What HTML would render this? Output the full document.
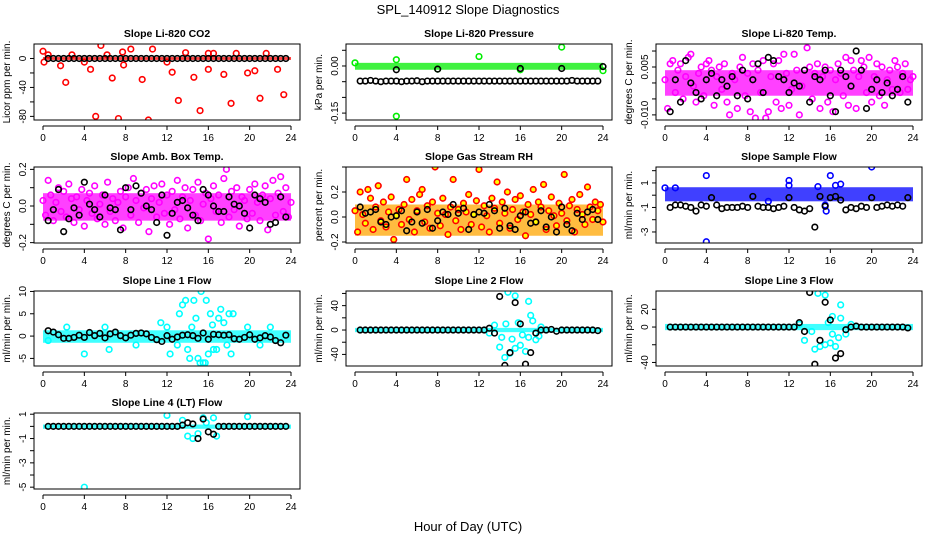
<!DOCTYPE html>
<html><head><meta charset="utf-8"><style>
body{margin:0;background:#fff;}
svg{display:block;font-family:"Liberation Sans",sans-serif;}
</style></head><body>
<svg id="chart" width="936" height="540" viewBox="0 0 936 540" xmlns="http://www.w3.org/2000/svg">
<rect width="936" height="540" fill="#fff"/>
<text x="468" y="14" text-anchor="middle" font-size="13">SPL_140912  Slope Diagnostics</text>
<text x="468" y="531" text-anchor="middle" font-size="13">Hour of Day (UTC)</text>
</svg>
<script>
const xTicks=[0,4,8,12,16,20,24];
const colTimes=[0,0.25,0.5,0.75,1,1.25,1.5,1.75,2,2.25,2.5,2.75,3,3.25,3.5,3.75,4,4.25,4.5,4.75,5,5.25,5.5,5.75,6,6.25,6.5,6.75,7,7.25,7.5,7.75,8,8.25,8.5,8.75,9,9.25,9.5,9.75,10,10.25,10.5,10.75,11,11.25,11.5,11.75,12,12.25,12.5,12.75,13,13.25,13.5,13.75,14,14.25,14.5,14.75,15,15.25,15.5,15.75,16,16.25,16.5,16.75,17,17.25,17.5,17.75,18,18.25,18.5,18.75,19,19.25,19.5,19.75,20,20.25,20.5,20.75,21,21.25,21.5,21.75,22,22.25,22.5,22.75,23,23.25,23.5,23.75,24];
const blackTimes=[0.5,1,1.5,2,2.5,3,3.5,4,4.5,5,5.5,6,6.5,7,7.5,8,8.5,9,9.5,10,10.5,11,11.5,12,12.5,13,13.5,14,14.5,15,15.5,16,16.5,17,17.5,18,18.5,19,19.5,20,20.5,21,21.5,22,22.5,23,23.5];

// Panel 1 CO2
const co2Band=[-2,2];
const co2RedX=[0,0.1,0.5,1.7,2.2,2.8,4,4.6,5.1,5.6,6.2,6.7,7.3,7.8,7.7,8.5,9.6,10.2,10.6,12,12.5,13.1,13.8,14.6,15.2,16,16.5,17.5,18.2,18.7,19.8,20.5,21,21.6,22.7,23.3,16];
const co2RedY=[10,-5,5,-10,-33,5,-5,-15,-80,18,5,-27,-83,-9,9,13,-29,-85,13,-5,-19,-58,8,-26,-72,-15,7,-22,-62,7,-20,-17,-55,7,-15,-50,7];
const co2Black=[0,0,0,0,0,0,0,0,0,0,0,0,0,0,0,0,0,0,0,0,0,0,0,0,0,0,0,0,0,0,0,0,0,0,0,0,0,0,0,0,0,0,0,0,0,0,0];
// Panel 2 pressure
const presBand=[-0.012,0.01];
const presGreenX=[0,4,4,12,20,24,16,8];
const presGreenY=[0.01,0.02,-0.16,0.03,0.06,-0.015,-0.012,-0.01];
const presBlack=[-0.048,-0.048,-0.046,-0.048,-0.05,-0.048,-0.048,-0.048,-0.05,-0.048,-0.048,-0.047,-0.05,-0.048,-0.048,-0.048,-0.048,-0.048,-0.048,-0.048,-0.048,-0.048,-0.048,-0.048,-0.048,-0.048,-0.048,-0.048,-0.048,-0.048,-0.048,-0.048,-0.048,-0.048,-0.048,-0.048,-0.048,-0.048,-0.048,-0.048,-0.048,-0.046,-0.048,-0.048,-0.048,-0.048,-0.048];
const presBlackExtraX=[4,8,16,20,24];
const presBlackExtraY=[-0.012,-0.01,-0.008,-0.008,-0.002];
// Panel 3 Li-820 temp
const tempBand=[-0.004,0.004];
const tempMag=[0.001,-0.008,0.006,0.007,-0.003,0.004,0.006,-0.005,0.002,0.008,0.009,-0.001,-0.006,0.003,0.005,-0.004,0.006,0.007,0.004,-0.007,0.002,0.005,-0.002,0.006,-0.006,-0.010,0.003,0.001,-0.008,0.005,0.008,-0.004,0.003,-0.009,0.006,-0.011,0.004,-0.003,0.007,-0.011,-0.009,0.002,0.006,-0.006,0.007,-0.008,0.009,0.003,-0.007,-0.002,0.009,0.004,-0.010,-0.001,0.004,0.011,0.005,-0.005,0.003,0.006,-0.008,0.002,0.005,-0.006,0.004,-0.009,0.001,0.006,0.003,-0.004,0.008,-0.007,0.007,0.004,-0.008,0.002,0.007,0.005,-0.003,0.008,-0.006,0.002,0.006,-0.004,0.005,-0.007,0.001,0.004,-0.002,0.007,0.005,-0.003,0.003,0.006,-0.002,0.001,0.002];
const tempBlack=[-0.009,0.001,-0.006,0.007,0.000,-0.003,-0.005,0.001,0.003,-0.004,0.001,-0.001,0.002,-0.004,0.004,-0.005,0.001,0.006,-0.003,0.008,0.007,0.002,0.001,-0.003,0.000,-0.001,0.004,-0.006,0.002,0.001,0.004,-0.004,-0.009,0.004,0.002,-0.001,0.010,0.004,-0.008,-0.002,0.001,-0.003,0.000,-0.004,-0.002,0.002,-0.006];
// Panel 4 amb box temp
const ambBand=[-0.08,0.07];
const ambMag=[0.03,-0.05,0.14,0.06,-0.08,0.02,0.10,-0.03,0.08,-0.06,0.12,0.04,-0.09,0.05,-0.02,0.09,-0.11,0.03,0.07,-0.04,0.11,-0.07,0.01,0.06,-0.10,0.13,-0.03,0.04,-0.08,0.02,0.08,-0.12,0.05,0.10,-0.05,0.15,0.03,-0.09,0.07,-0.01,0.09,-0.14,0.04,0.11,-0.06,0.02,0.12,-0.04,0.06,-0.10,0.08,-0.02,0.14,-0.07,0.05,0.10,-0.12,0.03,0.09,-0.05,0.13,-0.08,0.01,0.07,-0.18,0.04,0.11,-0.03,0.06,-0.09,0.15,0.20,-0.06,0.08,-0.02,0.10,-0.11,0.05,0.03,-0.07,0.09,-0.04,0.12,0.02,-0.08,0.06,0.11,-0.13,0.04,0.14,-0.05,0.07,0.16,-0.03,0.10,-0.06,0.02];
const ambBlack=[-0.08,-0.02,0.09,-0.14,-0.07,-0.01,-0.05,0.13,0.01,-0.02,-0.06,0.06,-0.01,-0.02,-0.13,0.10,-0.02,0.11,0.07,0.00,-0.02,-0.09,0.06,-0.16,-0.04,0.02,0.03,-0.01,-0.05,-0.08,0.09,0.06,0.00,-0.03,-0.03,0.05,0.01,0.00,-0.04,-0.12,0.06,0.04,0.02,-0.10,-0.09,0.05,-0.06];
// Panel 5 RH
const rhBand=[-0.15,0.1];
const rhOrange=[0.05,-0.12,0.20,0.02,-0.05,0.22,0.15,-0.10,0.08,0.25,-0.03,0.12,-0.08,0.04,0.16,-0.18,0.01,0.06,-0.06,0.10,0.30,-0.02,0.14,-0.12,0.05,0.18,0.22,-0.04,0.09,-0.09,0.12,0.40,0.03,-0.07,0.15,0.02,-0.14,0.08,0.30,-0.03,0.06,-0.10,0.11,0.04,0.18,-0.06,0.02,0.13,0.38,-0.08,0.09,0.01,-0.12,0.15,0.07,0.28,-0.05,0.12,0.03,0.20,-0.09,0.06,0.14,-0.02,0.17,0.04,-0.15,0.10,0.02,0.22,-0.04,0.12,0.08,0.26,-0.10,0.05,0.16,0.01,-0.07,0.11,0.03,0.34,-0.03,0.09,0.14,-0.12,0.06,0.18,0.02,-0.06,0.24,0.08,-0.02,0.12,0.05,0.10,-0.04];
const rhBlack=[0.08,0.03,0.04,0.06,-0.04,-0.06,0.00,0.01,0.05,-0.11,-0.04,0.04,-0.05,0.06,-0.09,-0.03,0.04,0.02,0.10,0.03,0.07,-0.10,0.02,0.04,0.03,0.10,0.05,-0.09,0.07,-0.07,-0.10,0.01,0.04,-0.05,-0.04,0.05,-0.08,0.00,-0.12,0.08,-0.06,-0.11,0.03,-0.02,0.04,0.06,-0.02];
// Panel 6 sample flow
const sfBand=[-0.5,0.65];
const sfBlueX=[4,4,12,12,15.5,15.6,16,16.5,17,20,10,0,1,14.8];
const sfBlueY=[1.6,-3.8,1.2,0.8,-0.8,-1.3,1.6,0.8,0.9,2.3,-0.5,0.6,0.6,0.7];
const sfBlack=[-1.0,-0.8,-0.8,-0.9,-1.0,-1.3,-0.8,-0.9,-0.2,-0.8,-1.1,-1.0,-1.0,-1.0,-0.9,-1.0,-0.1,-0.9,-1.0,-1.0,-1.1,-1.0,-0.9,-0.2,-1.0,-1.2,-1.3,-1.1,-2.6,-0.1,-0.9,-0.2,-0.1,-0.4,-1.2,-1.0,-1.1,-0.9,-1.0,-0.2,-1.0,-0.9,-0.8,-0.9,-0.8,-0.9,-0.2];
// Panel 7 line 1
const l1Band=[-1.5,1.3];
const l1CyanX=[0.5,2.3,4,6.4,11.4,12,12.3,13.2,13.5,13.8,14,14.2,14.6,14.8,15,15.2,15.3,15.5,15.7,15.8,16,16.2,16.5,16.8,17,17.2,17.5,18,18.2,18.4,19.8,21,22,16.4,17.8,13,14.4,6,9];
const l1CyanY=[-1,2,-4,-3,3,2,-4,5,7,8,-3,-5,8,4,-5,-6,10,-6,-6,8,-4,5,-3,-3,4,6,3,5,-4,5,2,-2,2,2.5,-2,-2,2,2,-2];
const l1Black=[1.2,0.9,0.3,-0.5,-0.5,-0.3,0.2,-0.3,0.8,0.1,0.6,-0.4,0.5,0.9,0.1,-0.4,0.2,0.6,0.7,0.5,-0.3,-0.8,-1.2,0.1,-0.7,-0.2,0.2,0.3,0.1,-0.5,0.7,-0.7,0.4,0.3,0.2,0.3,-0.6,-0.7,-0.3,0.3,-0.7,-0.4,0.1,-0.2,-1.0,-1.5,0.2];
// Panel 8 line 2
const l2Band=[-3.5,3.5];
const l2CyanX=[14.8,15.5,16.8,17,14,14.5,15,15.5,16,16.5,17.5,13.5,14.2,15.2,16.2,17.2,13,15.8,16.8,17.8,14.6,18];
const l2CyanY=[62,56,47,24,-28,-45,-38,-30,-25,-35,-16,8,-12,-15,-8,15,-5,12,-12,-10,10,5];
const l2Black=[0,0,0,0,0,0,0,0,0,0,0,0,0,0,0,0,0,0,0,0,0,0,0,0,0,3,-5,55,-58,-37,45,10,-56,-37,-5,0,0,1,-2,0,0,0,0,0,0,0,-1];
// Panel 9 line 3
const l3Band=[-3.5,3.5];
const l3CyanX=[14.8,15.5,17,16.2,17,14.5,15,15.5,16,16.5,16.8,13.5,14.2,16.2,17.5,15.8,13,18];
const l3CyanY=[38,36,25,12,10,-25,-22,-20,-18,-22,-12,-15,-5,-8,-8,5,3,3];
const l3Black=[0,0,0,0,0,0,0,0,0,0,0,0,0,0,0,0,0,0,0,0,0,0,0,0,0,5,-5,39,-42,-15,28,8,-35,-30,-3,0,1,0,0,0,0,0,0,0,0,0,-1];
// Panel 10 line 4
const l4Band=[-0.2,0.15];
const l4CyanX=[4,12,19.8,15.5,16.5,14.5,14,15,16.8,13.5,15.8];
const l4CyanY=[-5,0.9,0.8,0.7,0.7,-1,-0.8,-0.6,-0.8,0.5,0.3];
const l4Black=[0,0,0,0,0,0,0,0,0,0,0,0,0,0,0,0,0,0,0,0,0,0,0,0,0,0,0.1,0.3,0.2,-1.0,0.6,-0.45,-0.65,0,0,0,0,0,0,0,0,0,0,0,0,0,0];

const NS='http://www.w3.org/2000/svg';
const svg=document.getElementById('chart');
function mk(tag,attrs,parent){const e=document.createElementNS(NS,tag);for(const k in attrs)e.setAttribute(k,attrs[k]);(parent||svg).appendChild(e);return e;}

const panels=[
 {name:'co2',title:'Slope Li-820 CO2',ylab:'Licor ppm per min.',L:34,R:300,T:44,B:120,ymin:-85,ymax:20,ticks:[0,-20,-40,-60,-80],labels:[0,-40,-80],fmt:v=>String(v),col:'#ff0000',band:co2Band,cx:co2RedX,cy:co2RedY,bk:co2Black},
 {name:'pressure',title:'Slope Li-820 Pressure',ylab:'kPa per min.',L:346,R:612,T:44,B:120,ymin:-0.172,ymax:0.07,ticks:[0.05,0,-0.05,-0.1,-0.15],labels:[0,-0.15],fmt:v=>v.toFixed(2),col:'#00ee00',band:presBand,cx:presGreenX,cy:presGreenY,bk:presBlack,ex:presBlackExtraX,ey:presBlackExtraY},
 {name:'li820-temp',title:'Slope Li-820 Temp.',ylab:'degrees C per min.',L:656,R:922,T:44,B:120,ymin:-0.0116,ymax:0.0122,ticks:[0.01,0.005,0,-0.005,-0.01],labels:[0.005,-0.01],fmt:v=>v.toFixed(3),col:'#ff00ff',band:tempBand,cx:colTimes,cy:tempMag,bk:tempBlack},
 {name:'amb-box-temp',title:'Slope Amb. Box Temp.',ylab:'degrees C per min.',L:34,R:300,T:167,B:243,ymin:-0.202,ymax:0.213,ticks:[0.2,0.1,0,-0.1,-0.2],labels:[0.2,0,-0.2],fmt:v=>v.toFixed(1),col:'#ff00ff',band:ambBand,cx:colTimes,cy:ambMag,bk:ambBlack},
 {name:'gas-stream-rh',title:'Slope Gas Stream RH',ylab:'percent per min.',L:346,R:612,T:167,B:243,ymin:-0.208,ymax:0.4,ticks:[0.4,0.2,0,-0.2],labels:[0.2,0,-0.2],fmt:v=>v.toFixed(1),col:'#ffa500',band:rhBand,cx:colTimes,cy:rhOrange,bk:rhBlack,dot:'#ff0000'},
 {name:'sample-flow',title:'Slope Sample Flow',ylab:'ml/min per min.',L:656,R:922,T:167,B:243,ymin:-3.9,ymax:2.3,ticks:[2,1,0,-1,-2,-3],labels:[1,-1,-3],fmt:v=>String(v),col:'#0000ff',band:sfBand,cx:sfBlueX,cy:sfBlueY,bk:sfBlack},
 {name:'line1-flow',title:'Slope Line 1 Flow',ylab:'ml/min per min.',L:34,R:300,T:291,B:366,ymin:-6.7,ymax:10.1,ticks:[10,5,0,-5],labels:[10,5,0,-5],fmt:v=>String(v),col:'#00ffff',band:l1Band,cx:l1CyanX,cy:l1CyanY,bk:l1Black},
 {name:'line2-flow',title:'Slope Line 2 Flow',ylab:'ml/min per min.',L:346,R:612,T:291,B:366,ymin:-59,ymax:64,ticks:[60,40,20,0,-20,-40],labels:[40,0,-40],fmt:v=>String(v),col:'#00ffff',band:l2Band,cx:l2CyanX,cy:l2CyanY,bk:l2Black},
 {name:'line3-flow',title:'Slope Line 3 Flow',ylab:'ml/min per min.',L:656,R:922,T:291,B:366,ymin:-44,ymax:40.7,ticks:[20,0,-20,-40],labels:[20,0,-40],fmt:v=>String(v),col:'#00ffff',band:l3Band,cx:l3CyanX,cy:l3CyanY,bk:l3Black},
 {name:'line4-flow',title:'Slope Line 4 (LT) Flow',ylab:'ml/min per min.',L:34,R:300,T:413,B:489,ymin:-5.15,ymax:1.1,ticks:[1,0,-1,-2,-3,-4,-5],labels:[1,-1,-3,-5],fmt:v=>String(v),col:'#00ffff',band:l4Band,cx:l4CyanX,cy:l4CyanY,bk:l4Black}
];

panels.forEach(p=>{
 const x0=p.L+9,x1=p.R-9;
 const xs=v=>x0+(v-0)/(24-0)*(x1-x0);
 const ys=v=>p.B-(v-p.ymin)/(p.ymax-p.ymin)*(p.B-p.T);
 const g=mk('g',{});
 
 
 const t=mk('text',{x:(p.L+p.R)/2,y:p.T-7,'text-anchor':'middle','font-size':'10.5','font-weight':'bold'},g);
 
 
 t.textContent=p.title;
 const clip=mk('clipPath',{id:'c-'+p.name},g);mk('rect',{x:p.L,y:p.T,width:p.R-p.L,height:p.B-p.T},clip);
 const pg=mk('g',{'clip-path':'url(#c-'+p.name+')'},g);
 const band=mk('rect',{x:xs(0),y:ys(p.band[1]),width:xs(24)-xs(0),height:ys(p.band[0])-ys(p.band[1]),fill:p.col,opacity:0.75},pg);
 
 
 const n=Math.min(p.cx.length,p.cy.length);
 for(let i=0;i<n;i++){
  const c=mk('circle',{cx:xs(p.cx[i]),cy:ys(p.cy[i]),r:2.8,fill:p.dot?'#ffff00':'none',stroke:p.dot||p.col,'stroke-width':1.6},pg);
  
  
 }
 const nb=Math.min(blackTimes.length,p.bk.length);
 for(let i=0;i<nb;i++){
  const c=mk('circle',{cx:xs(blackTimes[i]),cy:ys(p.bk[i]),r:2.8,fill:'none',stroke:'#000','stroke-width':1.6},pg);
  
  
 }
 if(p.ex){for(let i=0;i<p.ex.length;i++){
  const c=mk('circle',{cx:xs(p.ex[i]),cy:ys(p.ey[i]),r:2.8,fill:'none',stroke:'#000','stroke-width':1.6},pg);
  
  
 }}
 const box=mk('rect',{x:p.L,y:p.T,width:p.R-p.L,height:p.B-p.T,fill:'none',stroke:'#000','stroke-width':1},g);
 
 
 const ay=p.B+6;
 mk('line',{x1:xs(0),x2:xs(24),y1:ay,y2:ay,stroke:'#000'},g);
 xTicks.forEach(v=>{
  mk('line',{x1:xs(v),x2:xs(v),y1:ay,y2:ay+4,stroke:'#000'},g);
  const l=mk('text',{x:xs(v),y:ay+15,'text-anchor':'middle','font-size':'10'},g);
  
  
  l.textContent=v;
 });
 const ax=p.L;
 p.ticks.forEach(v=>{mk('line',{x1:ax-4,x2:ax,y1:ys(v),y2:ys(v),stroke:'#000'},g);});
 p.labels.forEach(v=>{
  const yy=ys(v);
  const l=mk('text',{x:ax-8,y:yy,'text-anchor':'middle','font-size':'10',transform:`rotate(-90 ${ax-8} ${yy})`},g);
  
  
  l.textContent=p.fmt(v);
 });
 const yl=mk('text',{x:p.L-24,y:(p.T+p.B)/2,'text-anchor':'middle','font-size':'10',transform:`rotate(-90 ${p.L-24} ${(p.T+p.B)/2})`},g);
 
 
 yl.textContent=p.ylab;
});
</script>
</body></html>
